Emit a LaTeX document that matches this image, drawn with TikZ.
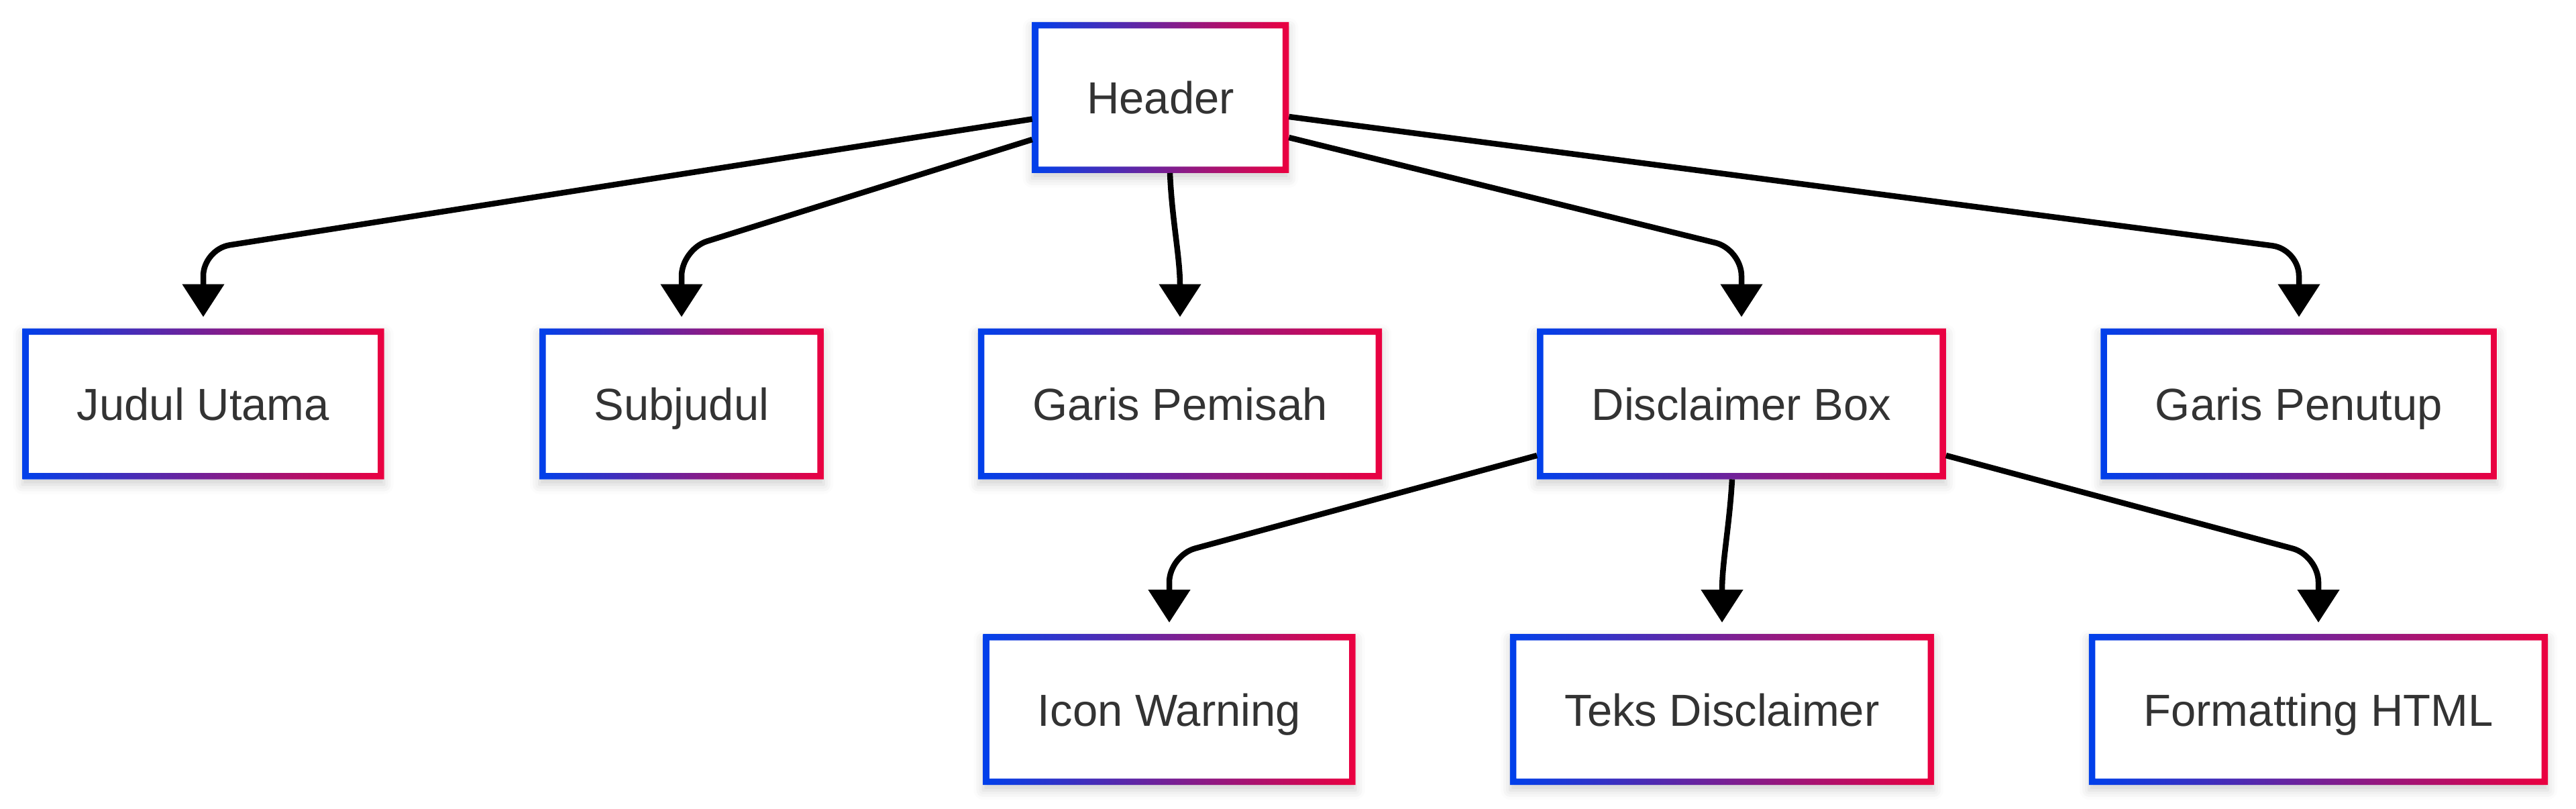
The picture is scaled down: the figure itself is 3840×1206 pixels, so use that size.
\documentclass[tikz,border=0pt]{standalone}
\usepackage{fontspec}
\setmainfont{Liberation Sans}
\usepackage{tikz}
\usepackage{xcolor}
\usetikzlibrary{arrows.meta, shadows.blur}

\definecolor{gblue}{RGB}{0,64,235}
\definecolor{gred}{RGB}{235,0,64}
\definecolor{txt}{HTML}{333333}

\begin{document}
\begin{tikzpicture}[x=1pt, y=-1pt,
		box/.style={fill=white, outer sep=0pt, inner xsep=81.5pt, inner ysep=0pt, minimum height=225pt, text height=49pt, text depth=0pt, text=txt, font=\fontsize{67}{80}\selectfont, blur shadow={shadow xshift=0pt, shadow yshift=-8pt, shadow blur radius=14pt, shadow opacity=18}},
		edge/.style={draw=black, line width=8.5pt, -{Triangle[width=61pt, length=49pt]}}]
		\useasboundingbox (0, 0) rectangle (3840, 1206);
		\node [box] (1) at (1730, 145.5) {Header};
		\node [box] (2) at (303, 602) {Judul Utama};
		\node [box] (3) at (1016, 602) {Subjudul};
		\node [box] (4) at (1759, 602) {Garis Pemisah};
		\node [box] (5) at (2596, 602) {Disclaimer Box};
		\node [box] (6) at (3427, 602) {Garis Penutup};
		\node [box] (7) at (1743, 1057.5) {Icon Warning};
		\node [box] (8) at (2567, 1057.5) {Teks Disclaimer};
		\node [box] (9) at (3456, 1057.5) {Formatting HTML};
		\foreach \n in {1,...,9}
			\shade [left color=gblue, right color=gred, even odd rule] (\n.north west) rectangle (\n.south east) ([shift={(9.5pt,-9.5pt)}]\n.north west) rectangle ([shift={(-9.5pt,9.5pt)}]\n.south east);
		\draw [edge, rounded corners=40pt] ([yshift=-32pt]1.west) -- ([yshift=118pt]2.north) -- ([yshift=17pt]2.north);
		\draw [edge, rounded corners=40pt] ([yshift=-62.5pt]1.west) -- ([yshift=118pt]3.north) -- ([yshift=17pt]3.north);
		\draw [edge] ([xshift=14pt]1.south) .. controls +(3, 70) and +(0, -90) .. ([yshift=17pt]4.north);
		\draw [edge, rounded corners=40pt] ([yshift=-59.5pt]1.east) -- ([yshift=118pt]5.north) -- ([yshift=17pt]5.north);
		\draw [edge, rounded corners=40pt] ([yshift=-28.5pt]1.east) -- ([yshift=118pt]6.north) -- ([yshift=17pt]6.north);
		\draw [edge, rounded corners=40pt] ([yshift=-77pt]5.west) -- ([yshift=117pt]7.north) -- ([yshift=17pt]7.north);
		\draw [edge] ([xshift=-14pt]5.south) .. controls +(-4, 70) and +(0, -90) .. ([yshift=17pt]8.north);
		\draw [edge, rounded corners=40pt] ([yshift=-77pt]5.east) -- ([yshift=117pt]9.north) -- ([yshift=17pt]9.north);
\end{tikzpicture}
\end{document}
